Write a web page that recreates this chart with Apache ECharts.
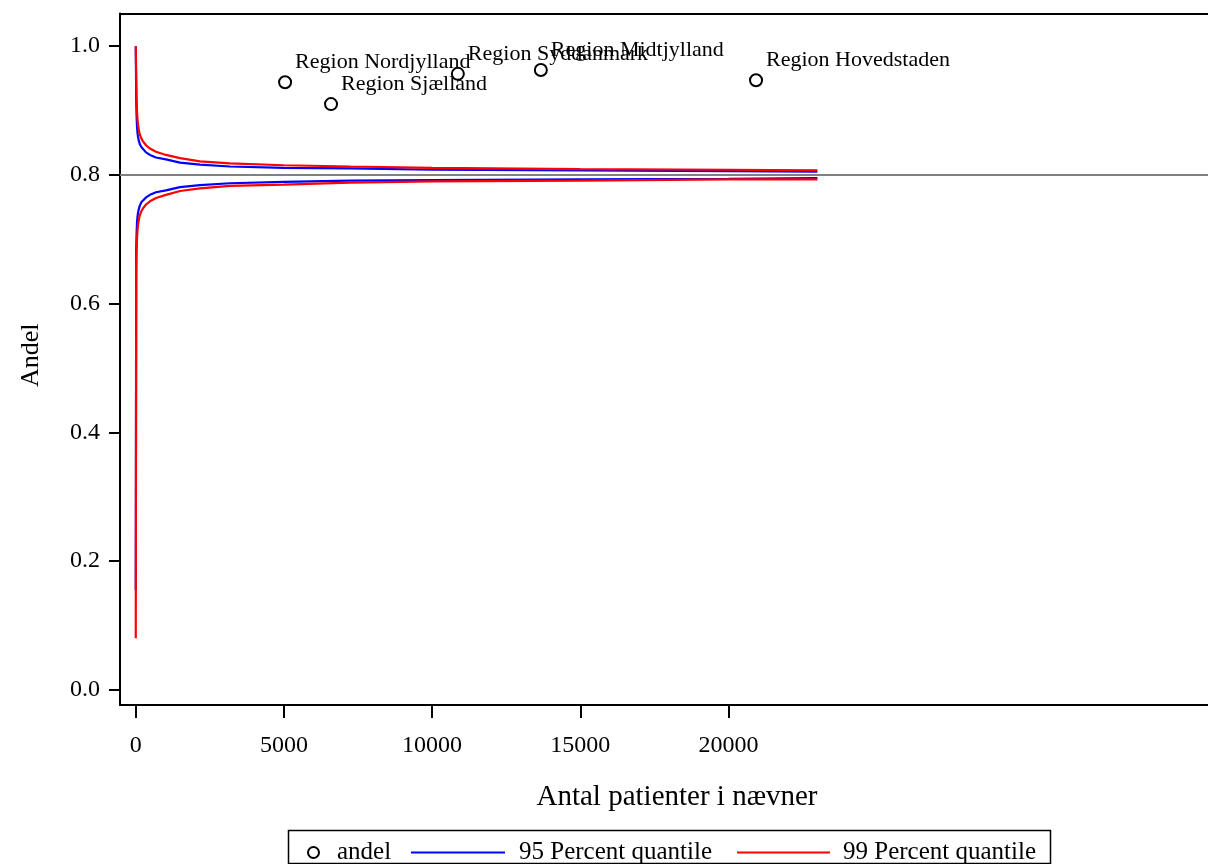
<!DOCTYPE html>
<html>
<head>
<meta charset="utf-8">
<script src="https://cdn.jsdelivr.net/npm/echarts@6/dist/echarts.min.js"></script>
<style>
  html, body { margin: 0; padding: 0; background: #fff; }
  #chart { width: 1208px; height: 864px; }
</style>
</head>
<body>
<div id="chart"></div>
<script>
// Regional proportions (andel) against number of patients in the denominator
var regions = ['Region Nordjylland', 'Region Sjælland', 'Region Syddanmark', 'Region Midtjylland', 'Region Hovedstaden'];
var regionN = [5040, 6590, 10870, 13670, 20930];
var regionAndel = [0.944, 0.910, 0.957, 0.963, 0.947];

// Overall proportion (reference line)
var overall = 0.8;

// Control limits, sampled along the denominator
var limitN  = [2, 17, 27, 44, 61, 78, 111, 145, 196, 246, 348, 482, 685, 1020, 1495, 2170, 3180, 5000, 7230, 10000, 15000, 20000, 23000];
var upper99 = [1.000, 0.955, 0.925, 0.898, 0.886, 0.878, 0.868, 0.862, 0.856, 0.852, 0.846, 0.841, 0.836, 0.831, 0.826, 0.821, 0.818, 0.815, 0.813, 0.811, 0.809, 0.808, 0.807];
var upper95 = [1.000, 0.918, 0.895, 0.875, 0.865, 0.859, 0.852, 0.847, 0.843, 0.840, 0.835, 0.831, 0.827, 0.824, 0.819, 0.816, 0.813, 0.811, 0.810, 0.808, 0.807, 0.806, 0.805];
var lower95 = [0.155, 0.682, 0.705, 0.726, 0.735, 0.741, 0.748, 0.753, 0.758, 0.761, 0.765, 0.769, 0.773, 0.776, 0.781, 0.784, 0.787, 0.789, 0.791, 0.792, 0.793, 0.794, 0.795];
var lower99 = [0.080, 0.645, 0.675, 0.702, 0.714, 0.722, 0.732, 0.738, 0.744, 0.748, 0.754, 0.759, 0.764, 0.769, 0.775, 0.779, 0.783, 0.785, 0.788, 0.790, 0.791, 0.793, 0.793];

var xTicks = [0, 5000, 10000, 15000, 20000];
var yTicks = [0, 0.2, 0.4, 0.6, 0.8, 1.0];

var FONT = 'Liberation Serif';

function pairs(xs, ys) {
  return xs.map(function (x, i) { return [x, ys[i]]; });
}

function limitSeries(name, values, color, z) {
  return {
    name: name,
    type: 'line',
    data: pairs(limitN, values),
    smooth: false,
    showSymbol: false,
    symbol: 'none',
    lineStyle: { color: color, width: 2.2 },
    itemStyle: { color: color },
    z: z
  };
}

var chart = echarts.init(document.getElementById('chart'), null, { renderer: 'canvas' });

var axisLine = { show: true, onZero: false, lineStyle: { color: '#000', width: 2 } };
var legendText = { fontFamily: FONT, fontSize: 25, color: '#000' };

var upper95Series = limitSeries('95 Percent quantile', upper95, '#0000ff', 2);
upper95Series.markLine = {
  silent: true,
  symbol: 'none',
  label: { show: false },
  lineStyle: { color: '#808080', width: 2, type: 'solid' },
  data: [{ yAxis: overall }]
};

var option = {
  backgroundColor: '#fff',
  animation: false,
  grid: { left: 120, right: 0, top: 13.5, bottom: 159 },
  xAxis: [{
    type: 'value',
    min: -530,
    max: 36180,
    position: 'bottom',
    name: 'Antal patienter i nævner',
    nameLocation: 'middle',
    nameGap: 78,
    nameTextStyle: { fontFamily: FONT, fontSize: 29, color: '#000', padding: [0, 0, 0, 26] },
    axisLine: axisLine,
    axisTick: { show: true, length: 13, lineStyle: { color: '#000', width: 2 }, customValues: xTicks },
    axisLabel: {
      fontFamily: FONT, fontSize: 24, color: '#000', margin: 29, customValues: xTicks,
      formatter: function (v) { return String(v); }
    },
    splitLine: { show: false }
  }, {
    type: 'value',
    min: -530,
    max: 36180,
    position: 'top',
    axisLine: axisLine,
    axisTick: { show: false },
    axisLabel: { show: false },
    splitLine: { show: false }
  }],
  yAxis: {
    type: 'value',
    min: -0.0238,
    max: 1.0508,
    name: 'Andel',
    nameLocation: 'middle',
    nameGap: 76,
    nameTextStyle: { fontFamily: FONT, fontSize: 26, color: '#000', padding: [0, 0, 0, 8] },
    axisLine: axisLine,
    axisTick: { show: true, length: 11, lineStyle: { color: '#000', width: 2 }, customValues: yTicks },
    axisLabel: {
      fontFamily: FONT, fontSize: 24, color: '#000', margin: 20, customValues: yTicks,
      formatter: function (v) { return v.toFixed(1); }
    },
    splitLine: { show: false }
  },
  legend: [{
    data: [{ name: 'andel', icon: 'emptyCircle' }],
    left: 302, top: 835,
    itemWidth: 11, itemHeight: 11,
    textStyle: Object.assign({ padding: [0, 0, 0, 13] }, legendText)
  }, {
    data: [{ name: '95 Percent quantile', icon: 'rect' }],
    left: 406, top: 835,
    itemWidth: 94, itemHeight: 2,
    textStyle: Object.assign({ padding: [0, 0, 0, 9] }, legendText)
  }, {
    data: [{ name: '99 Percent quantile', icon: 'rect' }],
    left: 732, top: 835,
    itemWidth: 93, itemHeight: 2,
    textStyle: Object.assign({ padding: [0, 0, 0, 8] }, legendText)
  }],
  graphic: [{
    type: 'rect',
    shape: { x: 288.5, y: 830.5, width: 762, height: 33 },
    style: { fill: 'none', stroke: '#000', lineWidth: 1.5 },
    silent: true
  }],
  series: [
    upper95Series,
    limitSeries('95 Percent quantile', lower95, '#0000ff', 2),
    limitSeries('99 Percent quantile', upper99, '#ff0000', 3),
    limitSeries('99 Percent quantile', lower99, '#ff0000', 3),
    {
      name: 'andel',
      type: 'scatter',
      data: regions.map(function (r, i) { return { name: r, value: [regionN[i], regionAndel[i]] }; }),
      symbol: 'emptyCircle',
      symbolSize: 12,
      itemStyle: { color: '#000', borderColor: '#000', borderWidth: 2, opacity: 1 },
      label: {
        show: true,
        formatter: '{b}',
        position: [17, -13],
        align: 'left',
        verticalAlign: 'middle',
        fontFamily: FONT,
        fontSize: 22,
        color: '#000'
      },
      z: 5
    }
  ]
};

chart.setOption(option);
</script>
</body>
</html>
